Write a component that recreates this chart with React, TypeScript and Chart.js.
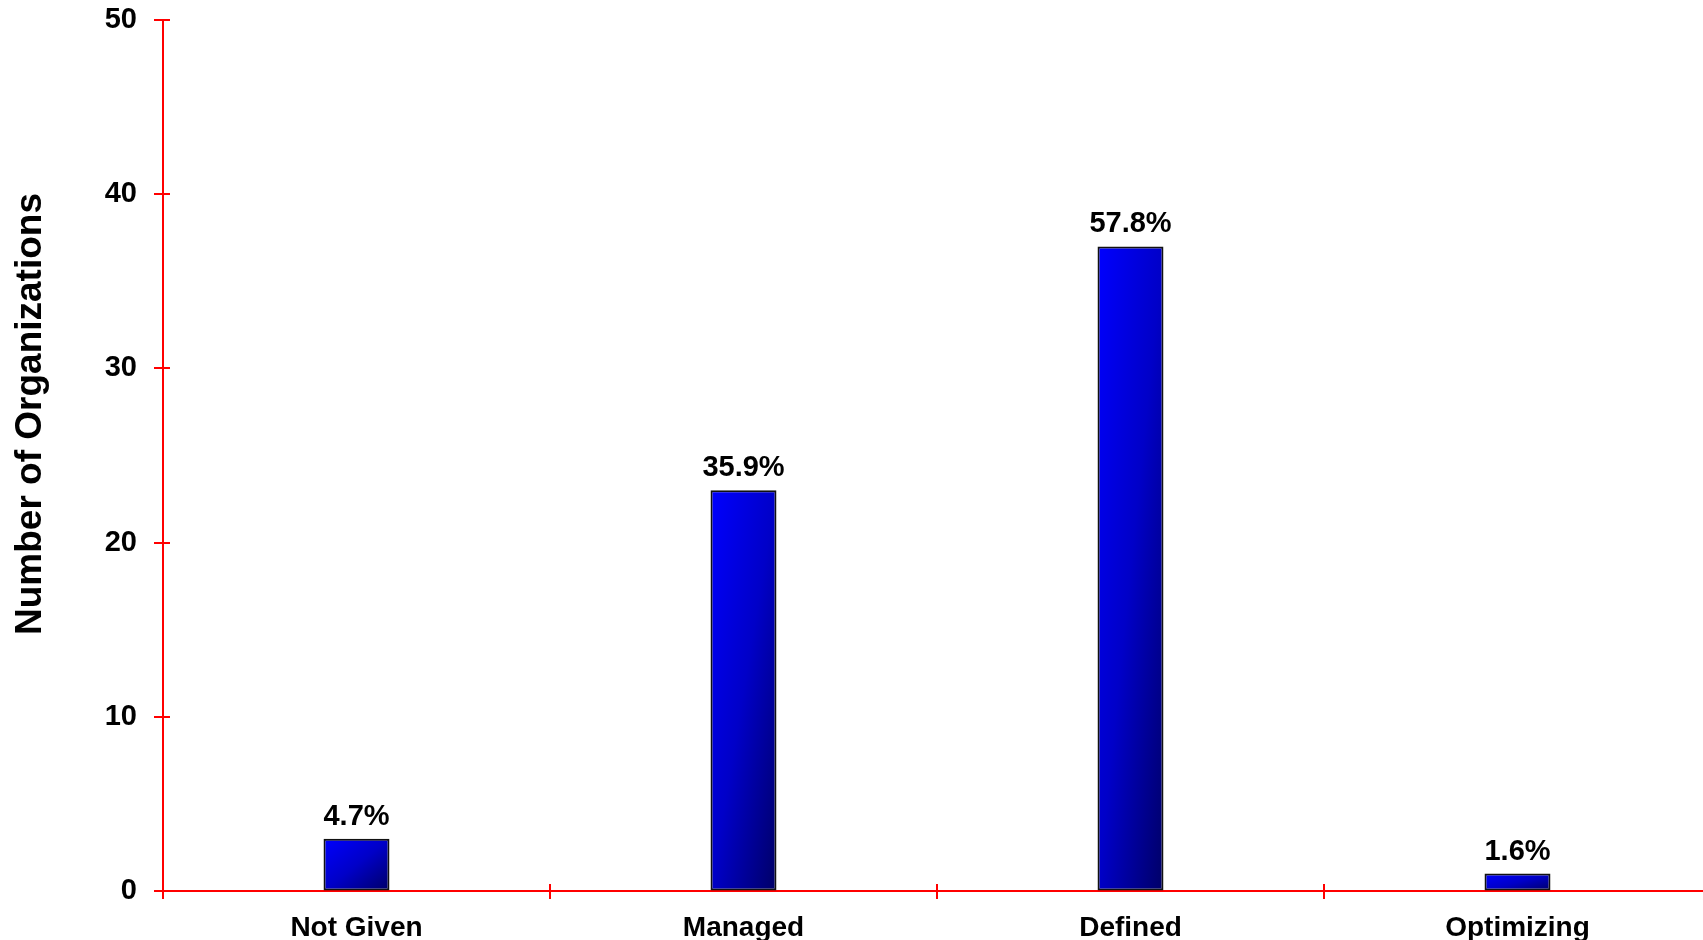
import React, { useEffect, useRef } from "react";
import { Chart, registerables } from "chart.js";

Chart.register(...registerables);

const categories = ["Not Given", "Managed", "Defined", "Optimizing"];
const orgCounts = [3, 23, 37, 1];
const percentLabels = ["4.7%", "35.9%", "57.8%", "1.6%"];
const yTicks = [0, 10, 20, 30, 40, 50];
const yAxisTitle = "Number of Organizations";

const FONT = "'Liberation Sans', Arial, Helvetica, sans-serif";
const BAR_PCT = 0.1705;
const RED = "#ff0000";

export default function App() {
  const ref = useRef<HTMLCanvasElement | null>(null);

  useEffect(() => {
    const canvas = ref.current;
    if (!canvas) return;

    const decor = {
      id: "decor",
      afterDraw(chart: any) {
        const ctx = chart.ctx;
        const xs = chart.scales.x;
        const ys = chart.scales.y;
        ctx.save();
        // crossing tick marks
        ctx.strokeStyle = RED;
        ctx.lineWidth = 2;
        ctx.beginPath();
        yTicks.forEach((v) => {
          const y = Math.round(ys.getPixelForValue(v));
          ctx.moveTo(xs.left - 9, y);
          ctx.lineTo(xs.left + 7, y);
        });
        const n = categories.length;
        const catW = (xs.right - xs.left) / n;
        for (let i = 1; i <= n; i++) {
          const x = Math.round(xs.left + i * catW);
          ctx.moveTo(x, ys.bottom - 7);
          ctx.lineTo(x, ys.bottom + 8);
        }
        ctx.moveTo(xs.left, ys.bottom);
        ctx.lineTo(xs.left, ys.bottom + 8);
        ctx.stroke();

        // percentage labels
        const meta = chart.getDatasetMeta(0);
        ctx.fillStyle = "#000";
        ctx.font = `bold 29px ${FONT}`;
        ctx.textAlign = "center";
        ctx.textBaseline = "alphabetic";
        meta.data.forEach((el: any, i: number) => {
          ctx.fillText(percentLabels[i], el.x, el.y - 14);
        });

        // axis title
        ctx.translate(41, 414);
        ctx.rotate(-Math.PI / 2);
        ctx.font = `bold 37px ${FONT}`;
        ctx.fillText(yAxisTitle, 0, 0);
        ctx.restore();
      },
    };

    const chart = new Chart(canvas, {
      type: "bar",
      data: {
        labels: categories,
        datasets: [
          {
            data: orgCounts,
            borderColor: "#111111",
            borderWidth: 2,
            borderSkipped: false,
            barPercentage: BAR_PCT,
            categoryPercentage: 1,
            backgroundColor: (c: any) => {
              const ch = c.chart;
              if (c.type !== "data" || !ch.chartArea) return "#0000ff";
              const xs = ch.scales.x;
              const ys = ch.scales.y;
              const catW = (xs.right - xs.left) / categories.length;
              const w = catW * BAR_PCT;
              const cx = xs.getPixelForValue(c.dataIndex);
              const x0 = cx - w / 2;
              const y0 = ys.getPixelForValue(c.raw);
              const h = Math.max(ys.getPixelForValue(0) - y0, 1);
              const t = (2 * w * h) / (h * h + w * w);
              const g = ch.ctx.createLinearGradient(x0, y0, x0 + h * t, y0 + w * t);
              g.addColorStop(0, "#0000ff");
              g.addColorStop(0.5, "#0000c8");
              g.addColorStop(1, "#000066");
              return g;
            },
          },
        ],
      },
      options: {
        responsive: false,
        animation: false,
        devicePixelRatio: 1,
        layout: { padding: { top: 20, right: 0, bottom: 0, left: 0 } },
        plugins: {
          legend: { display: false },
          tooltip: { enabled: false },
          title: { display: false },
        },
        scales: {
          x: {
            z: 1,
            grid: { display: false },
            border: { display: true, color: RED, width: 2 },
            ticks: {
              color: "#000",
              font: { family: FONT, size: 28, weight: "bold" },
              padding: 12,
              maxRotation: 0,
              autoSkip: false,
            },
            afterFit: (s: any) => {
              s.height = 49;
            },
          },
          y: {
            min: 0,
            max: 50,
            grid: {
              display: true,
              drawOnChartArea: false,
              drawTicks: true,
              tickLength: 26,
              color: "rgba(0,0,0,0)",
            },
            border: { display: true, color: RED, width: 2 },
            ticks: {
              stepSize: 10,
              color: "#000",
              font: { family: FONT, size: 29, weight: "bold" },
              padding: 0,
            },
            afterFit: (s: any) => {
              s.width = 163;
            },
          },
        },
      },
      plugins: [decor],
    });

    return () => chart.destroy();
  }, []);

  return (
    <div
      style={{
        position: "absolute",
        left: 0,
        top: 0,
        width: 1703,
        height: 940,
        overflow: "hidden",
        background: "#fff",
      }}
    >
      <canvas ref={ref} width={1711} height={940} style={{ display: "block" }} />
    </div>
  );
}
